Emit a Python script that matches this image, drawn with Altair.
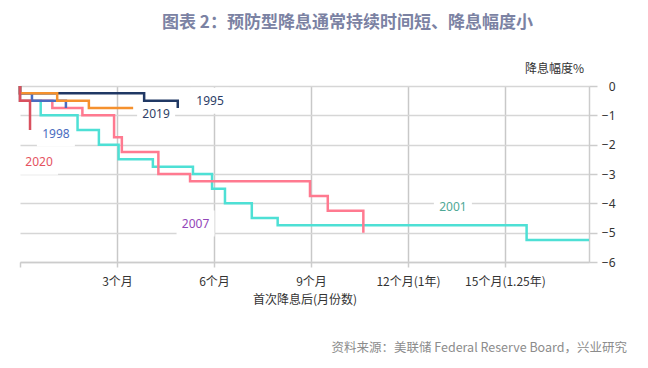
import altair as alt
import pandas as pd

# ---------------- data ----------------
# draw order (bottom -> top)
SERIES = ["2001", "2007", "1995", "1998", "2019", "2020"]
SERIES_COLORS = ["#4ee0d5", "#ff7a90", "#203864", "#4a6bbf", "#f5912e", "#d9505e"]

X_2001 = [0, 0, 0.64, 1.78, 2.44, 3.05, 4.11, 5.35, 5.94, 6.34, 7.17, 7.97, 15.67, 17.6]
Y_2001 = [0, -0.5, -1.0, -1.5, -2.0, -2.5, -2.75, -3.0, -3.5, -4.0, -4.5, -4.75, -5.25, -5.25]

X_2007 = [0, 0, 1.0, 1.93, 2.91, 3.15, 4.28, 5.26, 8.97, 9.52, 10.62]
Y_2007 = [0, -0.5, -0.75, -1.0, -1.75, -2.25, -3.0, -3.25, -3.75, -4.25, -5.0]

X_1995 = [0, 0, 3.84, 4.88]
Y_1995 = [0, -0.25, -0.5, -0.75]

X_1998 = [0, 0, 0.37, 1.42]
Y_1998 = [0, -0.25, -0.5, -0.75]

X_2019 = [0, 0, 1.15, 2.13, 3.5]
Y_2019 = [0, -0.25, -0.5, -0.75, -0.75]

X_2020 = [0, 0, 0.31]
Y_2020 = [0, -0.5, -1.5]

LABEL_TEXT = ["1995", "2019", "1998", "2020", "2007", "2001"]
LABEL_X = [5.88, 4.21, 1.11, 0.59, 5.43, 13.39]
LABEL_Y = [-0.50, -0.94, -1.62, -2.58, -4.69, -4.11]
LABEL_COLORS = ["#2b3d66", "#2f3f66", "#4a6cc0", "#e5535f", "#9346b8", "#4fa896"]

X_TICK_VALUES = [0, 3, 6, 9, 12, 15]
X_TICK_LABELS = ["", "3个月", "6个月", "9个月", "12个月(1年)", "15个月(1.25年)"]
Y_TICK_VALUES = [0, -1, -2, -3, -4, -5, -6]

TITLE = "图表 2：预防型降息通常持续时间短、降息幅度小"
X_TITLE = "首次降息后(月份数)"
Y_TITLE = "降息幅度%"
SOURCE = "资料来源：美联储 Federal Reserve Board，兴业研究"

# ---------------- build tables ----------------
xs = {"2001": X_2001, "2007": X_2007, "1995": X_1995, "1998": X_1998, "2019": X_2019, "2020": X_2020}
ys = {"2001": Y_2001, "2007": Y_2007, "1995": Y_1995, "1998": Y_1998, "2019": Y_2019, "2020": Y_2020}
rows = []
for s in SERIES:
    for i, (a, b) in enumerate(zip(xs[s], ys[s])):
        rows.append({"series": s, "month": a, "cut": b, "idx": i})
lines_df = pd.DataFrame(rows)
labels_df = pd.DataFrame({"lab": LABEL_TEXT, "month": LABEL_X, "cut": LABEL_Y})

FONT = "Noto Sans CJK SC"

label_expr = " : ".join(
    f"datum.value == {v} ? '{t}'" for v, t in zip(X_TICK_VALUES, X_TICK_LABELS)
) + " : ''"

x_enc = alt.X(
    "month:Q",
    scale=alt.Scale(domain=[0, 17.6], nice=False, zero=False),
    axis=alt.Axis(
        values=X_TICK_VALUES,
        labelExpr=label_expr,
        title=X_TITLE,
        grid=True,
        gridColor="#c8c8c8",
        gridWidth=1.5,
        gridOpacity={"condition": {"test": "datum.value === 0", "value": 0}, "value": 1},
        tickSize=5,
        tickColor="#cccccc",
        tickWidth=1.5,
        domainColor="#cccccc",
        domainWidth=1.5,
        labelFont=FONT,
        labelFontSize=12,
        labelColor="#333333",
        labelPadding=9,
        labelFlush=False,
        titleFont=FONT,
        titleFontSize=12,
        titleFontWeight="normal",
        titleColor="#333333",
        titlePadding=7,
    ),
)

y_enc = alt.Y(
    "cut:Q",
    scale=alt.Scale(domain=[-6, 0], nice=False, zero=False),
    axis=alt.Axis(
        orient="right",
        values=Y_TICK_VALUES,
        title=Y_TITLE,
        titleAngle=0,
        titleX=-35,
        titleY=-18,
        titleAlign="center",
        titleBaseline="middle",
        titleFont=FONT,
        titleFontSize=12,
        titleFontWeight="normal",
        titleColor="#333333",
        grid=True,
        gridColor="#d6d6d6",
        gridWidth=1.5,
        tickSize=8,
        tickColor="#cccccc",
        tickWidth=1.5,
        domainColor="#cccccc",
        domainWidth=1.5,
        labelFont="Noto Sans",
        labelFontSize=12,
        labelColor="#333333",
        labelAlign="right",
        labelPadding=18,
    ),
)

boxes = alt.Chart(labels_df).mark_rect(width=38, height=26, color="white").encode(x=x_enc, y=y_enc)

lines = alt.Chart(lines_df).mark_line(interpolate="step-after", strokeWidth=2.5).encode(
    x=x_enc,
    y=y_enc,
    color=alt.Color("series:N", scale=alt.Scale(domain=SERIES, range=SERIES_COLORS), legend=None),
    order=alt.Order("idx:Q"),
    detail="series:N",
)

texts = alt.Chart(labels_df).mark_text(font="Noto Sans", fontSize=12).encode(
    x=x_enc,
    y=y_enc,
    text="lab:N",
    color=alt.Color("lab:N", scale=alt.Scale(domain=LABEL_TEXT, range=LABEL_COLORS), legend=None),
)

source = alt.Chart(pd.DataFrame({"t": [SOURCE]})).mark_text(
    font=FONT, fontSize=12.5, color="#8c8c8c", align="right", baseline="middle"
).encode(text="t:N", x=alt.value(607), y=alt.value(262))

chart = (
    alt.layer(boxes, lines, texts, source)
    .resolve_scale(color="independent")
    .properties(
        width=569,
        height=176,
        autosize=alt.AutoSizeParams(type="none"),
        padding={"left": 12, "top": 78, "right": 51, "bottom": 96},
        title=alt.TitleParams(
            text=TITLE,
            anchor="start",
            frame="group",
            dx=142,
            offset=30,
            font=FONT,
            fontSize=17,
            fontWeight="bold",
            color="#7b82a3",
        ),
    )
    .configure_view(stroke=None)
)

chart.save("out.html", embed_options={"renderer": "svg", "actions": False})
